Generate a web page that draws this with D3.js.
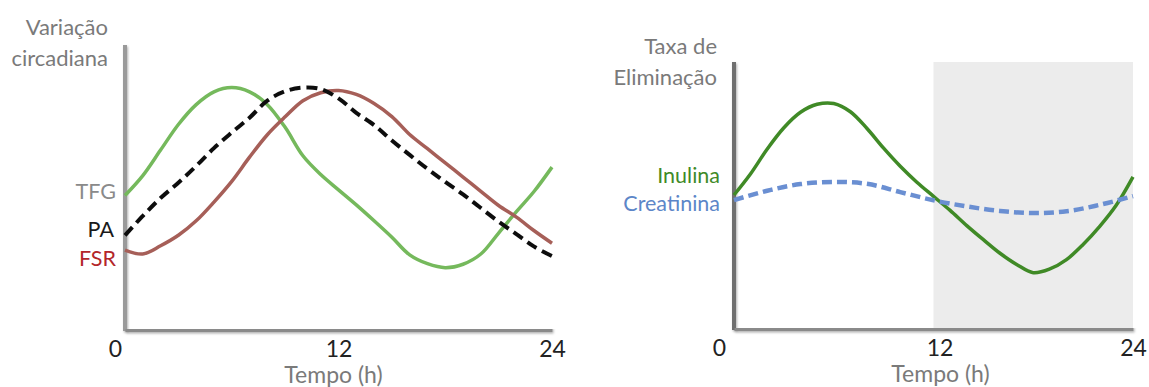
<!DOCTYPE html>
<html>
<head>
<meta charset="utf-8">
<script src="https://cdn.jsdelivr.net/npm/d3@7"></script>
<style>
  body { margin: 0; background: #fff; }
  svg { display: block; font-family: Lato, "Open Sans", sans-serif; }
</style>
</head>
<body>
<div class="canvas"></div>
<script>
const dims = { width: 1149, height: 387 };

// data: hours on the x axis
const hours = d3.range(0, 25);
const hoursEven = d3.range(0, 25, 2);
const tickHours = [0, 12, 24];

// left chart series (relative units 0-100)
const tfg = [47, 54, 63, 72, 79, 83.5, 85, 83.5, 79, 71, 61, 54.4, 49, 43.7, 38.1, 32.3, 26.1, 23, 21.6, 22.8, 26.4, 33.8, 41.3, 48.5, 57];
const pa = [33, 39.8, 46.1, 51.5, 57.4, 63.7, 69.2, 74.4, 80.4, 83.7, 85, 84.5, 81.2, 76.1, 71.8, 66.4, 61.3, 56.4, 51.8, 47.4, 42.6, 37.8, 33.4, 29, 25.7];
const fsr = [27.8, 26.4, 29.3, 33, 38.1, 44.7, 52, 60.5, 68.4, 74.7, 80.4, 83.2, 84, 82.6, 79.4, 74.8, 68.5, 63.5, 58.5, 53.5, 48.5, 43.5, 39.4, 34.6, 30.2];

// right chart series
const inulina = [50, 58, 67.3, 75.3, 81.1, 84.1, 84.4, 81.3, 75, 67.6, 60.8, 54.8, 49.5, 44.2, 38.5, 33.2, 28.1, 23.9, 20.8, 22.2, 25.7, 31.4, 38.2, 46.2, 56.8];
const creatinina = [48.1, 51.6, 54.1, 54.9, 54.2, 51.1, 48, 45.7, 44, 43.2, 43.9, 46.3, 49.6];
const nightHours = [12, 24];

const svg = d3.select('.canvas')
  .append('svg')
    .attr('width', dims.width)
    .attr('height', dims.height);

// soft edges and shadows like the original picture
const defs = svg.append('defs');
const soft = defs.append('filter')
  .attr('id', 'soft')
  .attr('filterUnits', 'userSpaceOnUse')
  .attr('x', 0).attr('y', 0)
  .attr('width', dims.width).attr('height', dims.height);
soft.append('feGaussianBlur').attr('in', 'SourceGraphic').attr('stdDeviation', 0.6);

const shadow = defs.append('filter')
  .attr('id', 'shadow')
  .attr('filterUnits', 'userSpaceOnUse')
  .attr('x', 0).attr('y', 0)
  .attr('width', dims.width).attr('height', dims.height);
shadow.append('feDropShadow')
  .attr('dx', 1).attr('dy', 1.5)
  .attr('stdDeviation', 1.2)
  .attr('flood-color', '#000').attr('flood-opacity', 0.3);

// build one panel
const panel = (cfg) => {
  const x = d3.scaleLinear().domain([0, 24]).range(cfg.xRange);
  const y = d3.scaleLinear().domain([0, 100]).range(cfg.yRange);
  const g = svg.append('g');

  if (cfg.shade) {
    g.append('rect')
      .attr('x', x(cfg.shade[0]))
      .attr('y', y(100))
      .attr('width', x(cfg.shade[1]) - x(cfg.shade[0]))
      .attr('height', y(0) - y(100))
      .attr('fill', '#ececec');
  }

  // axes
  g.append('line')
    .attr('x1', x(0)).attr('x2', x(0))
    .attr('y1', y(100)).attr('y2', y(0) + 2)
    .attr('stroke', cfg.yAxisColor)
    .attr('stroke-width', 4)
    .attr('filter', 'url(#shadow)');

  const xAxis = d3.axisBottom(x)
    .tickValues(tickHours)
    .tickSize(0)
    .tickPadding(12);

  const xg = g.append('g')
    .attr('transform', `translate(0, ${y(0)})`)
    .call(xAxis);

  xg.select('.domain')
    .attr('stroke', '#8a8a8a')
    .attr('stroke-width', 5)
    .attr('filter', 'url(#shadow)');

  xg.selectAll('.tick text')
    .attr('font-size', 23)
    .attr('fill', '#222')
    .attr('font-family', 'Lato, sans-serif')
    .attr('dx', d => cfg.tickShift[d] || 0);

  g.append('text')
    .attr('x', x(12) + cfg.tempoShift)
    .attr('y', y(0) + 54)
    .attr('text-anchor', 'middle')
    .attr('font-size', 23)
    .attr('fill', '#7a7a7a')
    .text('Tempo (h)');

  // y title
  g.selectAll('.ytitle')
    .data(cfg.title)
    .enter()
    .append('text')
      .attr('class', 'ytitle')
      .attr('x', cfg.titleX)
      .attr('y', (d, i) => cfg.titleY + i * 31)
      .attr('text-anchor', 'end')
      .attr('font-size', 22)
      .attr('fill', '#7a7a7a')
      .text(d => d);

  // series
  const curves = g.append('g').attr('filter', 'url(#soft)');
  cfg.series.forEach(s => {
    const line = d3.line()
      .x((d, i) => x(s.hours[i]))
      .y(d => y(d))
      .curve(d3.curveCatmullRom.alpha(0.5));

    curves.append('path')
      .datum(s.values)
      .attr('fill', 'none')
      .attr('stroke', s.color)
      .attr('stroke-width', s.width)
      .attr('stroke-dasharray', s.dash || null)
      .attr('d', line);

    g.append('text')
      .attr('x', s.labelX)
      .attr('y', s.labelY)
      .attr('text-anchor', 'end')
      .attr('font-size', 21.5)
      .attr('fill', s.labelColor)
      .text(s.name);
  });
};

panel({
  xRange: [125, 552],
  yRange: [329, 45],
  yAxisColor: '#9a9a9a',
  tickShift: { 0: -10 },
  tempoShift: -5,
  title: ['Variação', 'circadiana'],
  titleX: 108,
  titleY: 35,
  series: [
    { name: 'TFG', hours, values: tfg, color: '#74b95c', width: 3.5, labelColor: '#8a8a8a', labelX: 116, labelY: 199 },
    { name: 'FSR', hours, values: fsr, color: '#a65e58', width: 3.5, labelColor: '#b3262a', labelX: 116, labelY: 266 },
    { name: 'PA', hours, values: pa, color: '#111', width: 4, dash: '11 6', labelColor: '#1a1a1a', labelX: 114, labelY: 237 }
  ]
});

panel({
  xRange: [734, 1133],
  yRange: [328, 62],
  yAxisColor: '#707070',
  shade: nightHours,
  tickShift: { 0: -15, 12: 6 },
  tempoShift: 7,
  title: ['Taxa de', 'Eliminação'],
  titleX: 717,
  titleY: 54,
  series: [
    { name: 'Inulina', hours, values: inulina, color: '#3f8a28', width: 3.5, labelColor: '#3f8a28', labelX: 720, labelY: 183 },
    { name: 'Creatinina', hours: hoursEven, values: creatinina, color: '#6b8fd2', width: 4.5, dash: '10 5', labelColor: '#5c86c8', labelX: 720, labelY: 211 }
  ]
});
</script>
</body>
</html>
